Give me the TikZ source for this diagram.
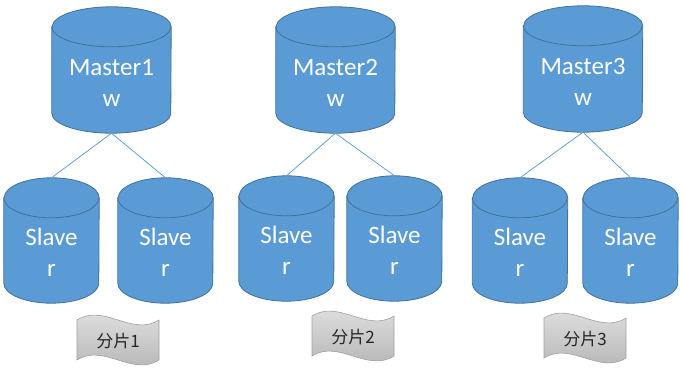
\documentclass[tikz,border=0pt]{standalone}
\usepackage{fontspec}
\setmainfont{Carlito}
\newfontfamily\cjkfont{Noto Sans CJK SC}
\definecolor{dbfill}{HTML}{5B9BD5}
\definecolor{dbline}{HTML}{41719C}
\definecolor{linkblue}{HTML}{5B9BD5}
\definecolor{shardtop}{HTML}{E4E4E4}
\definecolor{shardbottom}{HTML}{B2B2B2}
\definecolor{shardline}{HTML}{A0A0A0}
% cylinder round a named box: #1 node, #2 x radius
\newcommand\dbdraw[2]{%
 \filldraw[dbbody] ([yshift=-20pt]#1.north west) -- ([yshift=20pt]#1.south west)
   arc[start angle=180,end angle=360,x radius=#2,y radius=20pt]
   -- ([yshift=-20pt]#1.north east)
   arc[start angle=0,end angle=180,x radius=#2,y radius=20pt] -- cycle;
 \draw[dbbody] ([yshift=-20pt]#1.north west)
   arc[start angle=180,end angle=360,x radius=#2,y radius=20pt];}
\newcommand\shardwave[1]{%
 \shade[top color=shardtop,bottom color=shardbottom,draw=shardline,line width=0.6pt]
   ([shift={(-41,21)}]#1) .. controls ([shift={(-14,38)}]#1) and ([shift={(14,4)}]#1) .. ([shift={(41,21)}]#1)
   -- ([shift={(41,-19)}]#1) .. controls ([shift={(14,-36)}]#1) and ([shift={(-14,-2)}]#1) .. ([shift={(-41,-19)}]#1)
   -- cycle;}

\begin{document}
\begin{tikzpicture}[x=1pt,y=1pt,
 dbbody/.style={draw=dbline,fill=dbfill,line width=0.8pt},
 master/.style={minimum width=119pt,minimum height=126pt,inner sep=0pt},
 slave/.style={minimum width=95pt,minimum height=125pt,inner sep=0pt},
 dbtext/.style={text=white,align=center,font=\fontsize{25}{31}\selectfont},
 shardtext/.style={font=\cjkfont\fontsize{17}{20}\selectfont,text=black!85},
 link/.style={draw=linkblue,line width=0.75pt}]
 \useasboundingbox (0,0) rectangle (683,372);
 \node[master] (m1) at (111.5,302) {};
 \node[master] (m2) at (335.5,302) {};
 \node[master] (m3) at (583,303) {};
 \node[slave] (s11) at (51.5,131.5) {};
 \node[slave] (s12) at (165.5,131.5) {};
 \node[slave] (s21) at (286.5,133.5) {};
 \node[slave] (s22) at (394.5,133.5) {};
 \node[slave] (s31) at (520,131.5) {};
 \node[slave] (s32) at (630.5,131.5) {};
 \dbdraw{m1}{59.5pt} \dbdraw{m2}{59.5pt} \dbdraw{m3}{59.5pt}
 \dbdraw{s11}{47.5pt} \dbdraw{s12}{47.5pt}
 \dbdraw{s21}{47.5pt} \dbdraw{s22}{47.5pt}
 \dbdraw{s31}{47.5pt} \dbdraw{s32}{47.5pt}
 \node[dbtext] (m1text) at ([yshift=-12.5pt]m1.center) {Master1\\w};
 \node[dbtext] (m2text) at ([yshift=-12.5pt]m2.center) {Master2\\w};
 \node[dbtext] (m3text) at ([yshift=-12.5pt]m3.center) {Master3\\w};
 \node[dbtext] (s11text) at ([yshift=-11.5pt]s11.center) {Slave\\r};
 \node[dbtext] (s12text) at ([yshift=-11.5pt]s12.center) {Slave\\r};
 \node[dbtext] (s21text) at ([yshift=-11.5pt]s21.center) {Slave\\r};
 \node[dbtext] (s22text) at ([yshift=-11.5pt]s22.center) {Slave\\r};
 \node[dbtext] (s31text) at ([yshift=-11.5pt]s31.center) {Slave\\r};
 \node[dbtext] (s32text) at ([yshift=-11.5pt]s32.center) {Slave\\r};
 \draw[link] (m1.south)--(s11.north);
 \draw[link] (m1.south)--(s12.north);
 \draw[link] (m2.south)--(s21.north);
 \draw[link] (m2.south)--(s22.north);
 \draw[link] (m3.south)--(s31.north);
 \draw[link] (m3.south)--(s32.north);
 \coordinate (c1) at (118,31);
 \coordinate (c2) at (353,35);
 \coordinate (c3) at (585,33);
 \shardwave{c1}
 \shardwave{c2}
 \shardwave{c3}
 \node[shardtext] (shard1) at (c1) {分片1};
 \node[shardtext] (shard2) at (c2) {分片2};
 \node[shardtext] (shard3) at (c3) {分片3};
\end{tikzpicture}
\end{document}
